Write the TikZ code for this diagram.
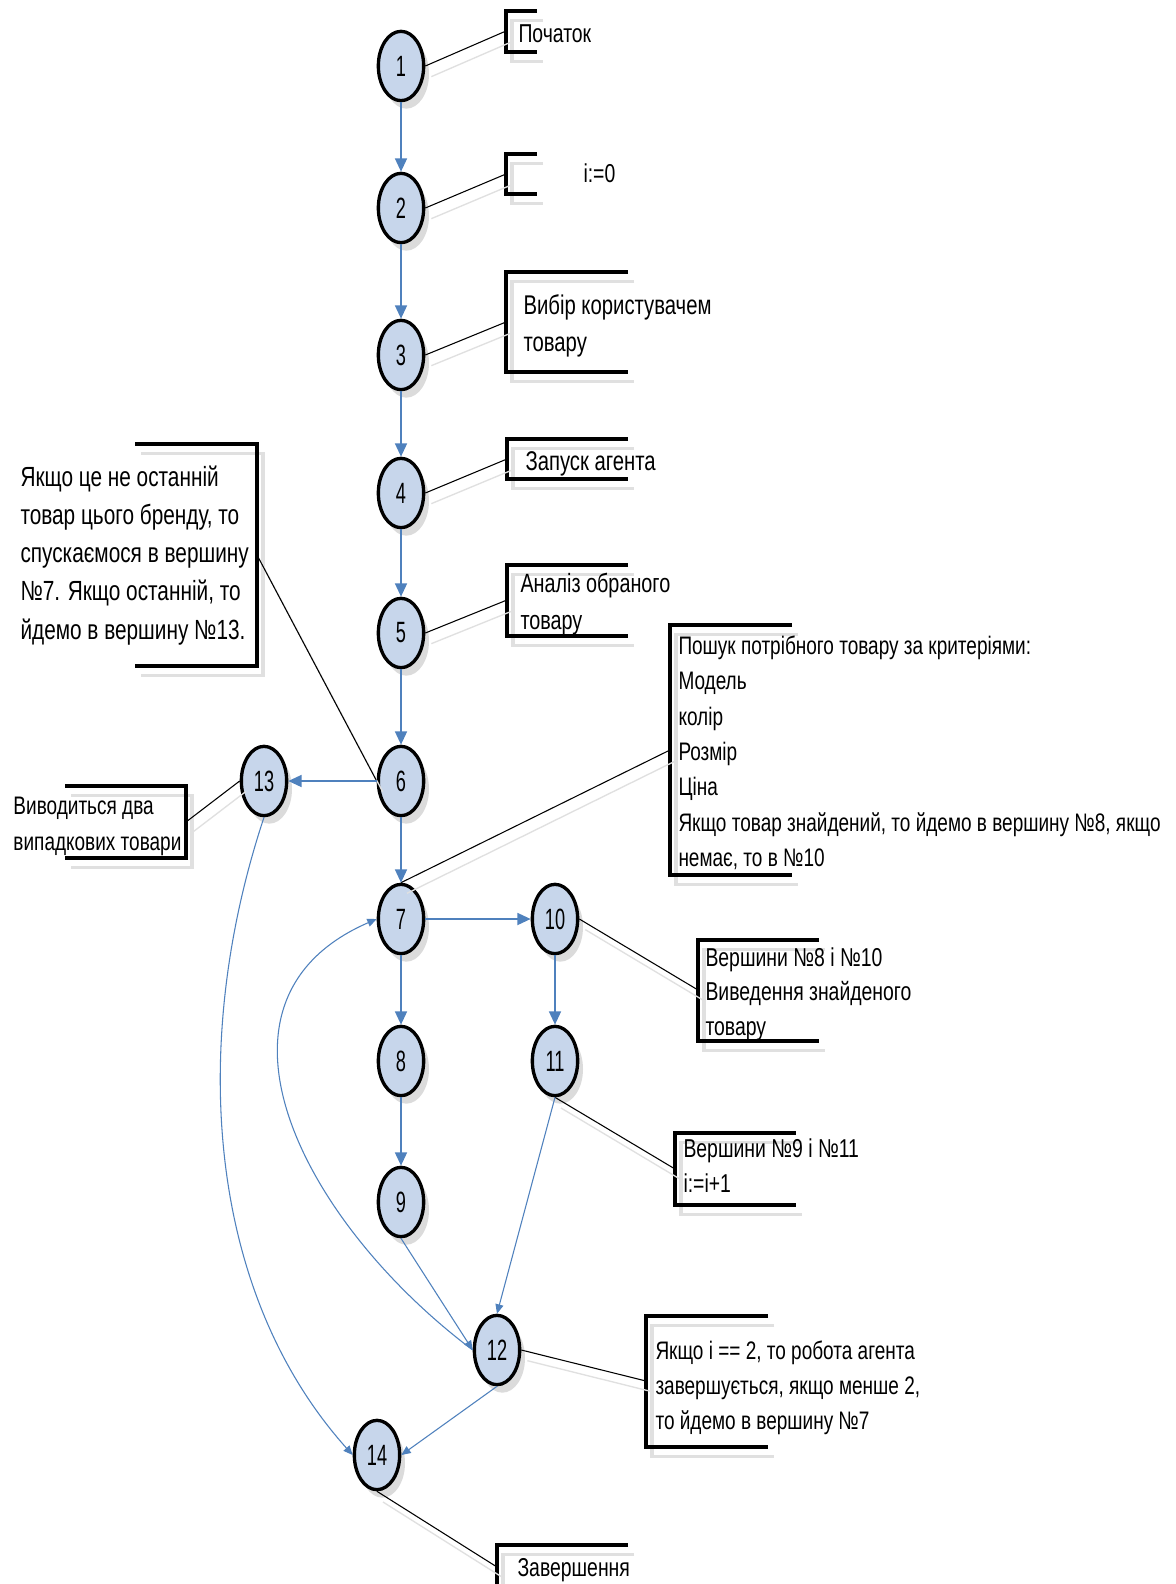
\documentclass[tikz,border=0pt]{standalone}
\usepackage{fontspec}
\setmainfont{Liberation Sans}[FakeStretch=0.75]
\newfontfamily\vertexfont{Liberation Sans}[FakeStretch=0.62]
\usetikzlibrary{arrows.meta,shapes.geometric,shadows}

\definecolor{flowblue}{RGB}{79,129,189}
\definecolor{vertexfill}{RGB}{199,214,235}
\newcommand{\notefont}{\fontsize{19.4pt}{26.6pt}\selectfont}

\tikzset{every picture/.style={line width=0.75pt}}
\tikzset{
vertex/.style={ellipse, draw=black, line width=2.5pt, fill=vertexfill, minimum width=34pt, minimum height=52pt, inner sep=0pt, font=\vertexfont\fontsize{22pt}{24pt}\selectfont, drop shadow={shadow xshift=4pt, shadow yshift=-6pt, fill=black!14, opacity=1}},
flow/.style={draw=flowblue, line width=1.3pt, -{Triangle[length=10pt,width=9pt]}},
flowthin/.style={draw=flowblue, line width=0.8pt, -{Triangle[length=7pt,width=6pt]}},
note/.style={anchor=north west, inner sep=0pt, align=left, font=\notefont},
bracket/.style={line width=2.5pt, preaction={draw=black!12, line width=2.5pt, transform canvas={shift={(4.5pt,-7pt)}}}},
leader/.style={line width=0.8pt, preaction={draw=black!12, line width=1pt, transform canvas={shift={(4.5pt,-8pt)}}}}
}

\begin{document}
\begin{tikzpicture}[x=0.75pt,y=0.75pt,yscale=-1,xscale=1]
\path[use as bounding box, fill=white] (0,0) rectangle (1175,1584);

%Shape: Brackets of the notes
\draw[bracket] (537,11) -- (506,11) -- (506,52) -- (537,52);
\coordinate (c1) at (506,31);
\draw[bracket] (537,154) -- (506,154) -- (506,194) -- (537,194);
\coordinate (c2) at (506,174);
\draw[bracket] (628,272) -- (506,272) -- (506,372) -- (628,372);
\coordinate (c3) at (506,322);
\draw[bracket] (628,439) -- (507,439) -- (507,479) -- (628,479);
\coordinate (c4) at (507,459);
\draw[bracket] (628,565) -- (507,565) -- (507,636) -- (628,636);
\coordinate (c5) at (507,600);
\draw[bracket] (792,625) -- (670,625) -- (670,875) -- (792,875);
\coordinate (c7) at (670,750);
\draw[bracket] (135,444) -- (257,444) -- (257,666) -- (135,666);
\coordinate (c6) at (257,555);
\draw[bracket] (65,786) -- (186,786) -- (186,858) -- (65,858);
\coordinate (c13) at (186,822);
\draw[bracket] (819,940) -- (698,940) -- (698,1041) -- (819,1041);
\coordinate (c10) at (698,990);
\draw[bracket] (796,1133) -- (675,1133) -- (675,1205) -- (796,1205);
\coordinate (c11) at (675,1169);
\draw[bracket] (768,1316) -- (646,1316) -- (646,1447) -- (768,1447);
\coordinate (c12) at (646,1381);
\draw[bracket] (628,1545) -- (497,1545) -- (497,1600);
\coordinate (c14) at (497,1567);

%Shape: Ellipse vertices
\node[vertex] (n1) at (401,66) {1};
\node[vertex] (n2) at (401,208) {2};
\node[vertex] (n3) at (401,355) {3};
\node[vertex] (n4) at (401,493) {4};
\node[vertex] (n5) at (401,633) {5};
\node[vertex] (n6) at (401,781) {6};
\node[vertex] (n7) at (401,919) {7};
\node[vertex] (n8) at (401,1061) {8};
\node[vertex] (n9) at (401,1202) {9};
\node[vertex] (n10) at (555,919) {10};
\node[vertex] (n11) at (555,1061) {11};
\node[vertex] (n12) at (497,1350) {12};
\node[vertex] (n13) at (264,781) {13};
\node[vertex] (n14) at (377,1455) {14};

%Straight Lines to the notes
\draw[leader] (n1.east) -- (c1);
\draw[leader] (n2.east) -- (c2);
\draw[leader] (n3.east) -- (c3);
\draw[leader] (n4.east) -- (c4);
\draw[leader] (n5.east) -- (c5);
\draw[leader] (c6) -- (n6.west);
\draw[leader] (n7.north) -- (c7);
\draw[leader] (n13.west) -- (c13);
\draw[leader] (n10.east) -- (c10);
\draw[leader] (n11.south) -- (c11);
\draw[leader] (n12.east) -- (c12);
\draw[leader] (n14.south) -- (c14);

%Straight Lines [arrows]
\draw[flow] (n1) -- (n2);
\draw[flow] (n2) -- (n3);
\draw[flow] (n3) -- (n4);
\draw[flow] (n4) -- (n5);
\draw[flow] (n5) -- (n6);
\draw[flow] (n6) -- (n7);
\draw[flow] (n7) -- (n8);
\draw[flow] (n8) -- (n9);
\draw[flow] (n6) -- (n13);
\draw[flow] (n7) -- (n10);
\draw[flow] (n10) -- (n11);
\draw[flowthin] (n11.south) -- (n12.north);
\draw[flowthin] (n9.south) -- (n12.west);
\draw[flowthin] (n12.south) -- (n14.east);
%Curve Lines
\draw[flowthin] (n12.west) .. controls (300,1220) and (190,1000) .. (n7.west);
\draw[flowthin] (n13.south) .. controls (190,1040) and (205,1290) .. (n14.west);

% Text Node
\node[note] (t1) at (518,24) {Початок};
% Text Node
\node[note] (t2) at (583,163) {i:=0};
% Text Node
\node[note, font=\fontsize{20.3pt}{27.5pt}\selectfont] (t3) at (523,294) {Вибір користувачем\\товару};
% Text Node
\node[note, font=\fontsize{20.3pt}{27pt}\selectfont] (t4) at (525,451) {Запуск агента};
% Text Node
\node[note, font=\fontsize{19.8pt}{27.8pt}\selectfont] (t5) at (520,573) {Аналіз обраного\\товару};
% Text Node
\node[note, font=\fontsize{19pt}{26.6pt}\selectfont] (t7) at (678,635) {Пошук потрібного товару за критеріями:\\Модель\\колір\\Розмір\\Ціна\\Якщо товар знайдений, то йдемо в вершину №8, якщо\\немає, то в №10};
% Text Node
\node[note, font=\fontsize{20.8pt}{28.7pt}\selectfont] (t6) at (20,465) {Якщо це не останній\\товар цього бренду, то\\спускаємося в вершину\\№7. Якщо останній, то\\йдемо в вершину №13.};
% Text Node
\node[note, font=\fontsize{19pt}{26.3pt}\selectfont] (t13) at (13,797) {Виводиться два\\випадкових товари};
% Text Node
\node[note, font=\fontsize{19.4pt}{26pt}\selectfont] (t10) at (705,947) {Вершини №8 і №10\\Виведення знайденого\\товару};
% Text Node
\node[note] (t11) at (683,1138) {Вершини №9 і №11\\i:=i+1};
% Text Node
\node[note, font=\fontsize{19pt}{26.4pt}\selectfont] (t12) at (655,1340) {Якщо i == 2, то робота агента\\завершується, якщо менше 2,\\то йдемо в вершину №7};
% Text Node
\node[note] (t14) at (517,1558) {Завершення};

\end{tikzpicture}
\end{document}
